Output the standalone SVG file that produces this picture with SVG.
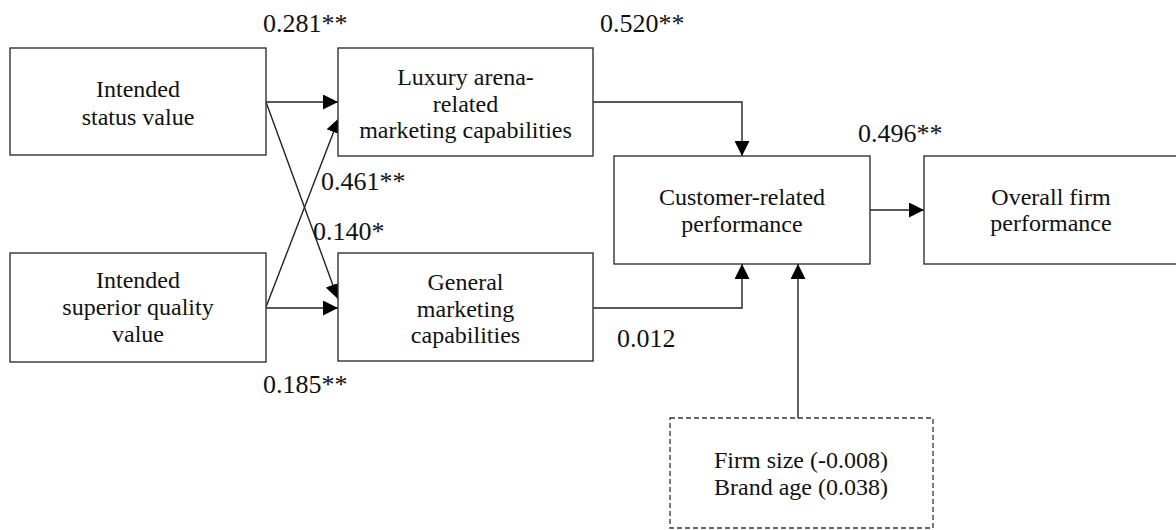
<svg xmlns="http://www.w3.org/2000/svg" width="1176" height="530" viewBox="0 0 1176 530">
  <style>
    .box { fill: #ffffff; stroke: #333333; stroke-width: 1.4; }
    .dash { fill: #ffffff; stroke: #333333; stroke-width: 1.3; stroke-dasharray: 5 3; }
    text { font-family: 'Liberation Serif', 'DejaVu Serif', 'Noto Serif', 'Times New Roman', Times, serif; fill: #111111; }
    .t { font-size: 24px; text-anchor: middle; }
    .lbl { font-size: 26px; }
    .edge { fill: none; stroke: #222222; stroke-width: 1.4; marker-end: url(#arrow); }
  </style>
  <defs>
    <marker id="arrow" markerUnits="userSpaceOnUse" markerWidth="15" markerHeight="15" viewBox="0 0 15 15" refX="15" refY="7.5" orient="auto">
      <path d="M0,0 L15,7.5 L0,15 z" fill="#000000"/>
    </marker>
  </defs>
  <rect width="1176" height="530" fill="#ffffff"/>

  <!-- connectors -->
  <g id="connectors">
    <line class="edge" x1="266" y1="102" x2="338" y2="102"/>
    <line class="edge" x1="266" y1="308" x2="338" y2="308"/>
    <line class="edge" x1="266" y1="102" x2="338" y2="299"/>
    <line class="edge" x1="266" y1="307" x2="339" y2="118"/>
    <polyline class="edge" points="593,102 742,102 742,156"/>
    <polyline class="edge" points="593,308 742,308 742,264"/>
    <line class="edge" x1="870" y1="210" x2="924" y2="210"/>
    <line class="edge" x1="798" y1="418" x2="798" y2="264"/>
  </g>

  <!-- path coefficients -->
  <g id="labels">
    <text class="lbl" x="263" y="32">0.281**</text>
    <text class="lbl" x="600" y="32">0.520**</text>
    <text class="lbl" x="321" y="190">0.461**</text>
    <text class="lbl" x="313" y="240">0.140*</text>
    <text class="lbl" x="858" y="142">0.496**</text>
    <text class="lbl" x="263" y="393">0.185**</text>
    <text class="lbl" x="617" y="347">0.012</text>
  </g>

  <g id="status">
    <rect class="box" x="10" y="48" width="256" height="107"/>
    <text class="t" x="138" y="97">Intended</text>
    <text class="t" x="138" y="125">status value</text>
  </g>

  <g id="quality">
    <rect class="box" x="10" y="253" width="256" height="109"/>
    <text class="t" x="138" y="288">Intended</text>
    <text class="t" x="138" y="315">superior quality</text>
    <text class="t" x="138" y="342">value</text>
  </g>

  <g id="luxury">
    <rect class="box" x="338" y="48" width="255" height="108"/>
    <text class="t" x="465.5" y="85">Luxury arena-</text>
    <text class="t" x="465.5" y="112">related</text>
    <text class="t" x="465.5" y="138">marketing capabilities</text>
  </g>

  <g id="general">
    <rect class="box" x="338" y="253" width="255" height="108"/>
    <text class="t" x="465.5" y="290">General</text>
    <text class="t" x="465.5" y="317">marketing</text>
    <text class="t" x="465.5" y="343">capabilities</text>
  </g>

  <g id="customer">
    <rect class="box" x="614" y="156" width="256" height="108"/>
    <text class="t" x="742" y="205">Customer-related</text>
    <text class="t" x="742" y="232">performance</text>
  </g>

  <g id="overall">
    <rect class="box" x="924" y="156" width="256" height="108"/>
    <text class="t" x="1051" y="205">Overall firm</text>
    <text class="t" x="1051" y="231">performance</text>
  </g>

  <g id="controls">
    <rect class="dash" x="670" y="418" width="263" height="110"/>
    <text class="t" x="801" y="468">Firm size (-0.008)</text>
    <text class="t" x="801" y="495">Brand age (0.038)</text>
  </g>
</svg>
